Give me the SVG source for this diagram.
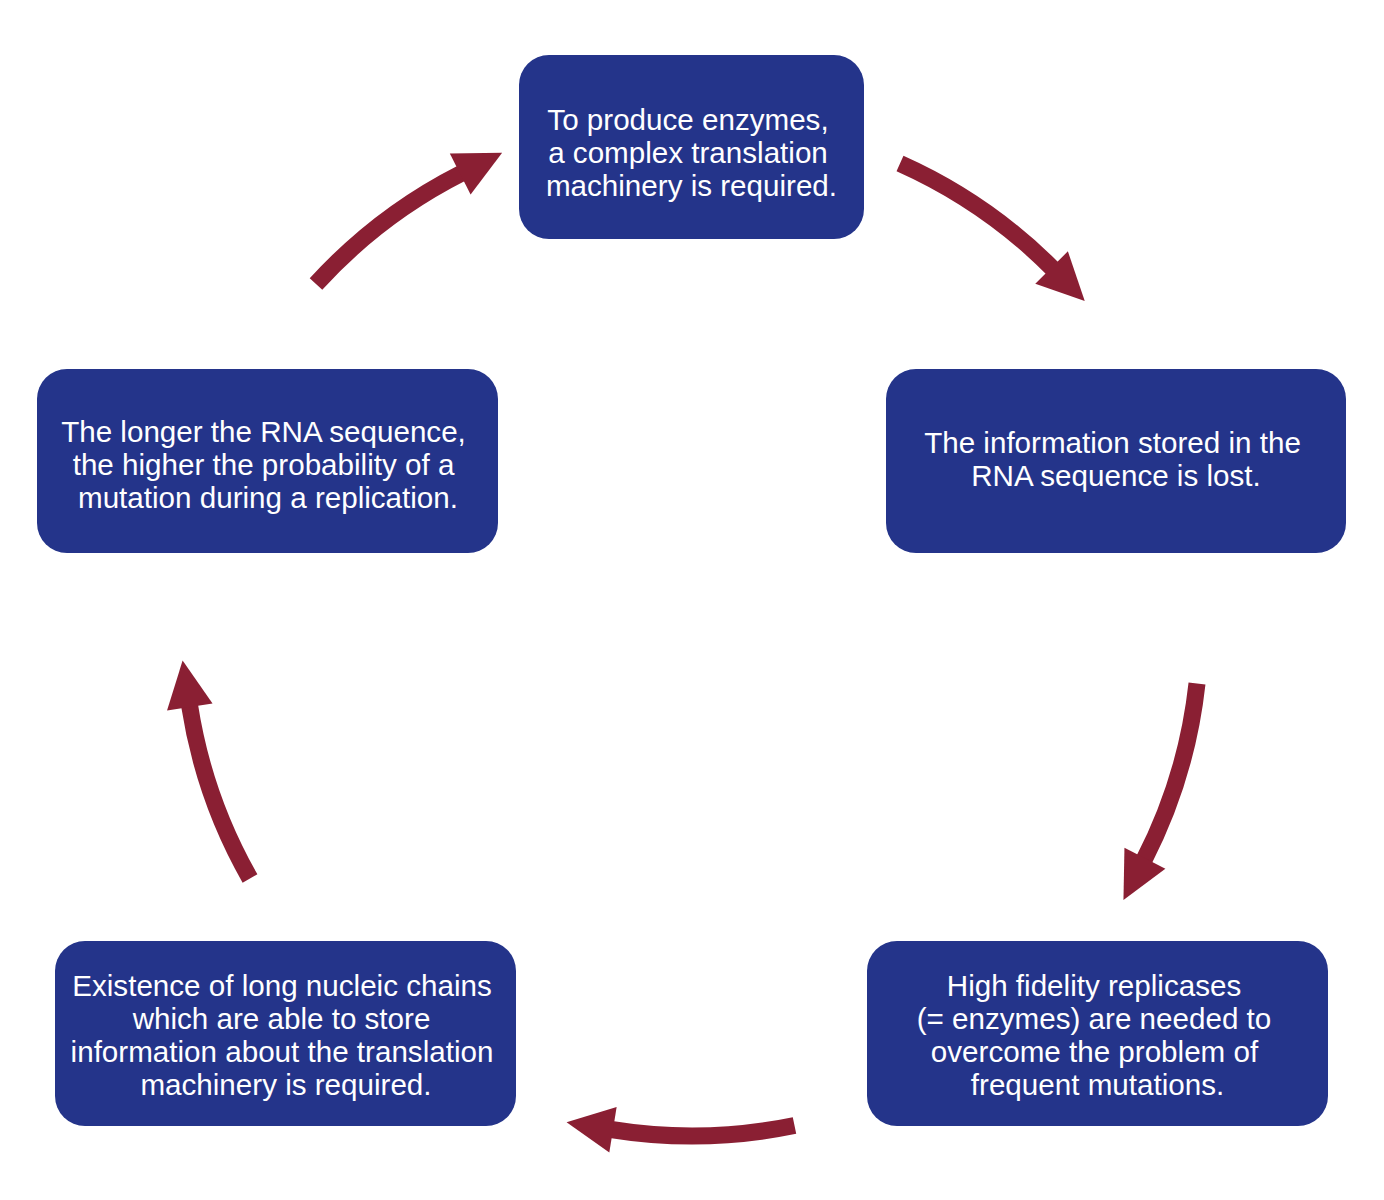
<svg xmlns="http://www.w3.org/2000/svg" width="1384" height="1200" viewBox="0 0 1384 1200">
  <defs>
    <style>
      .box { fill: #24348A; }
      .lbl { fill: #ffffff; font-family: "Liberation Sans", Arial, sans-serif; font-size: 29.6px; text-anchor: middle; }
      .arr { fill: none; stroke: #8A1F33; stroke-width: 17; stroke-linecap: butt; marker-end: url(#head); }
    </style>
    <marker id="head" markerUnits="userSpaceOnUse" markerWidth="50" markerHeight="50" refX="0" refY="0" orient="auto" overflow="visible">
      <path d="M-2,-23 L45,0 L-2,23 Z" fill="#8A1F33"/>
    </marker>
  </defs>
  <rect width="1384" height="1200" fill="#ffffff"/>

  <g id="connectors">
    <path class="arr" d="M316,284 A508,508 0 0 1 462,173"/>
    <path class="arr" d="M900,163.5 A508,508 0 0 1 1053,269"/>
    <path class="arr" d="M1197,683.5 A508,508 0 0 1 1144,860"/>
    <path class="arr" d="M794.5,1125.5 A508,508 0 0 1 611,1129.5"/>
    <path class="arr" d="M250,878.5 A508,508 0 0 1 189.5,705"/>
  </g>

  <g id="node-top">
    <rect class="box" x="519" y="55" width="345" height="184" rx="30" ry="30"/>
    <text class="lbl"><tspan x="688" y="130">To produce enzymes,</tspan><tspan x="688" y="163">a complex translation</tspan><tspan x="691.5" y="196">machinery is required.</tspan></text>
  </g>

  <g id="node-right">
    <rect class="box" x="886" y="369" width="460" height="184" rx="30" ry="30"/>
    <text class="lbl"><tspan x="1112.5" y="453">The information stored in the</tspan><tspan x="1116" y="486">RNA sequence is lost.</tspan></text>
  </g>

  <g id="node-bottom-right">
    <rect class="box" x="867" y="941" width="461" height="185" rx="30" ry="30"/>
    <text class="lbl"><tspan x="1094" y="996">High fidelity replicases</tspan><tspan x="1094" y="1029">(= enzymes) are needed to</tspan><tspan x="1094.5" y="1062">overcome the problem of</tspan><tspan x="1097.5" y="1095">frequent mutations.</tspan></text>
  </g>

  <g id="node-bottom-left">
    <rect class="box" x="55" y="941" width="461" height="185" rx="30" ry="30"/>
    <text class="lbl"><tspan x="282" y="996">Existence of long nucleic chains</tspan><tspan x="281.5" y="1029">which are able to store</tspan><tspan x="282" y="1062">information about the translation</tspan><tspan x="286" y="1095">machinery is required.</tspan></text>
  </g>

  <g id="node-left">
    <rect class="box" x="37" y="369" width="461" height="184" rx="30" ry="30"/>
    <text class="lbl"><tspan x="263.5" y="442">The longer the RNA sequence,</tspan><tspan x="263.5" y="475">the higher the probability of a</tspan><tspan x="268" y="508">mutation during a replication.</tspan></text>
  </g>
</svg>
